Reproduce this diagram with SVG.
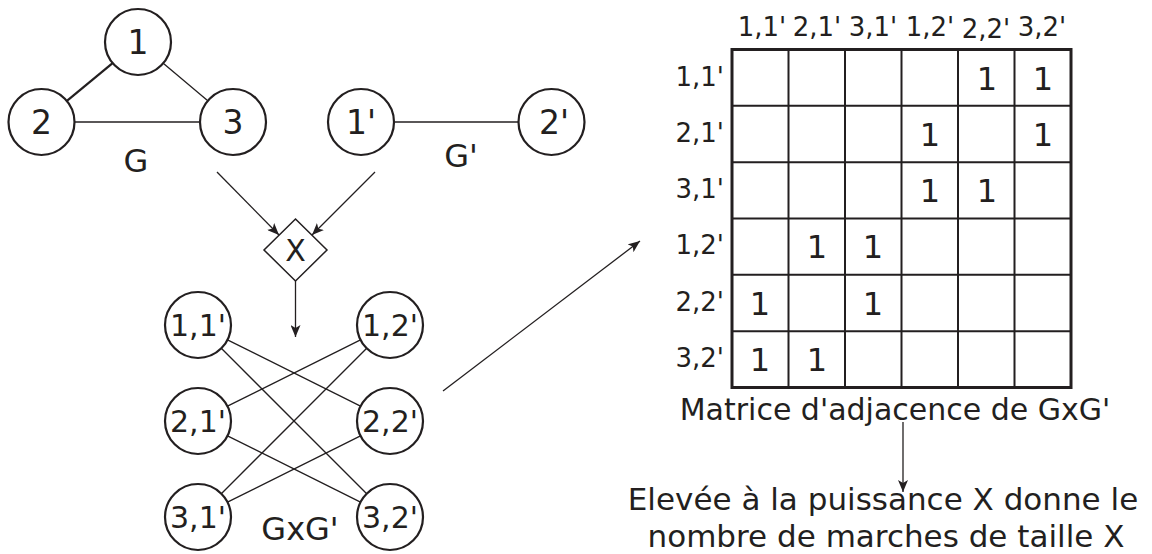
<svg xmlns="http://www.w3.org/2000/svg" width="1152" height="554" viewBox="0 0 1152 554">
<defs>
<marker id="arr" viewBox="0 0 12 10" refX="12" refY="5" markerWidth="12" markerHeight="10" markerUnits="userSpaceOnUse" orient="auto">
<path d="M0,0 L12,5 L0,10 L3,5 z" fill="#231f20"/>
</marker>
<style>
text{font-family:"DejaVu Sans","Liberation Sans",sans-serif;fill:#231f20;text-anchor:middle}
.node{fill:#fff;stroke:#231f20;stroke-width:2.2}
.edge{stroke:#231f20;stroke-width:1.3;fill:none}
.arrow{stroke:#231f20;stroke-width:1.3;fill:none;marker-end:url(#arr)}
.n1{font-size:33px}
.n2{font-size:30px}
.lbl{font-size:32px}
.hdr{font-size:26px}
.rowh{font-size:26px;text-anchor:end}
.one{font-size:32px}
.cap{font-size:30px}
.txt{font-size:31px}
.grid{stroke:#231f20;stroke-width:2;fill:none}
</style>
</defs>
<rect width="1152" height="554" fill="#fff"/>

<g id="connectors">
<line class="edge" x1="112.6" y1="63.1" x2="66.9" y2="100.9" style="stroke-width:2.2"/>
<line class="edge" x1="163.2" y1="63.3" x2="207.8" y2="100.7"/>
<line class="edge" x1="74.5" y1="122" x2="200" y2="122"/>
<line class="edge" x1="395" y1="122" x2="518" y2="122"/>
<line class="arrow" x1="217" y1="172" x2="279" y2="235"/>
<line class="arrow" x1="375" y1="172" x2="312" y2="235"/>
<line class="arrow" x1="295.5" y1="281" x2="295.5" y2="337"/>
<line class="edge" x1="227.5" y1="339.8" x2="360.5" y2="406.2"/>
<line class="edge" x1="221.3" y1="348.3" x2="366.7" y2="493.7"/>
<line class="edge" x1="227.5" y1="406.2" x2="360.5" y2="339.8"/>
<line class="edge" x1="227.5" y1="435.8" x2="360.5" y2="502.2"/>
<line class="edge" x1="221.3" y1="493.7" x2="366.7" y2="348.3"/>
<line class="edge" x1="227.5" y1="502.2" x2="360.5" y2="435.8"/>
<line class="arrow" x1="443" y1="391" x2="640" y2="241"/>
<line class="arrow" x1="903" y1="422" x2="903" y2="492"/>
</g>

<g id="node-1"><circle class="node" cx="138" cy="42" r="33"/><text class="n1" x="138" y="54">1</text></g>
<g id="node-2"><circle class="node" cx="41.5" cy="122" r="33"/><text class="n1" x="41.5" y="134">2</text></g>
<g id="node-3"><circle class="node" cx="233" cy="122" r="33"/><text class="n1" x="233" y="134">3</text></g>
<g id="label-G"><text class="lbl" x="136" y="172">G</text></g>
<g id="node-1p"><circle class="node" cx="361" cy="122" r="33"/><text class="n1" x="361" y="134">1'</text></g>
<g id="node-2p"><circle class="node" cx="551.5" cy="122" r="33"/><text class="n1" x="554" y="134">2'</text></g>
<g id="label-Gp"><text class="lbl" x="461" y="167">G'</text></g>

<g id="node-X"><polygon points="295.5,219 327,250 295.5,281 264,250" fill="#fff" stroke="#231f20" stroke-width="1.5"/><text class="n2" x="295.5" y="261">X</text></g>

<g id="node-11"><circle class="node" cx="198" cy="325" r="33"/><text class="n2" x="198" y="336">1,1'</text></g>
<g id="node-21"><circle class="node" cx="198" cy="421" r="33"/><text class="n2" x="198" y="432">2,1'</text></g>
<g id="node-31"><circle class="node" cx="198" cy="517" r="33"/><text class="n2" x="198" y="528">3,1'</text></g>
<g id="node-12"><circle class="node" cx="390" cy="325" r="33"/><text class="n2" x="390" y="336">1,2'</text></g>
<g id="node-22"><circle class="node" cx="390" cy="421" r="33"/><text class="n2" x="390" y="432">2,2'</text></g>
<g id="node-32"><circle class="node" cx="390" cy="517" r="33"/><text class="n2" x="390" y="528">3,2'</text></g>
<g id="label-GxG"><text class="lbl" x="300" y="540">GxG'</text></g>

<g id="matrix">
<rect x="732" y="49.5" width="339" height="338" fill="#fff" stroke="#231f20" stroke-width="3"/>
<path class="grid" d="M788.5,49.5V387.5M845,49.5V387.5M901.5,49.5V387.5M958,49.5V387.5M1014.5,49.5V387.5M732,105.8H1071M732,162.2H1071M732,218.5H1071M732,274.8H1071M732,331.2H1071"/>
<text class="hdr" x="762" y="36">1,1'</text>
<text class="hdr" x="817" y="36">2,1'</text>
<text class="hdr" x="873" y="36">3,1'</text>
<text class="hdr" x="930" y="36">1,2'</text>
<text class="hdr" x="986" y="38">2,2'</text>
<text class="hdr" x="1042" y="36">3,2'</text>
<text class="rowh" x="724" y="86">1,1'</text>
<text class="rowh" x="724" y="142">2,1'</text>
<text class="rowh" x="724" y="198">3,1'</text>
<text class="rowh" x="724" y="254">1,2'</text>
<text class="rowh" x="724" y="311">2,2'</text>
<text class="rowh" x="724" y="367">3,2'</text>
<text class="one" x="987" y="90">1</text>
<text class="one" x="1043" y="90">1</text>
<text class="one" x="930" y="146">1</text>
<text class="one" x="1043" y="146">1</text>
<text class="one" x="930" y="202">1</text>
<text class="one" x="987" y="202">1</text>
<text class="one" x="817" y="258">1</text>
<text class="one" x="873" y="258">1</text>
<text class="one" x="760" y="315">1</text>
<text class="one" x="873" y="315">1</text>
<text class="one" x="760" y="371">1</text>
<text class="one" x="817" y="371">1</text>
</g>
<g id="label-matrix"><text class="cap" x="895" y="420">Matrice d'adjacence de GxG'</text></g>
<g id="label-power"><text class="txt" x="883" y="510">Elevée à la puissance X donne le</text><text class="txt" x="886" y="547">nombre de marches de taille X</text></g>
</svg>
